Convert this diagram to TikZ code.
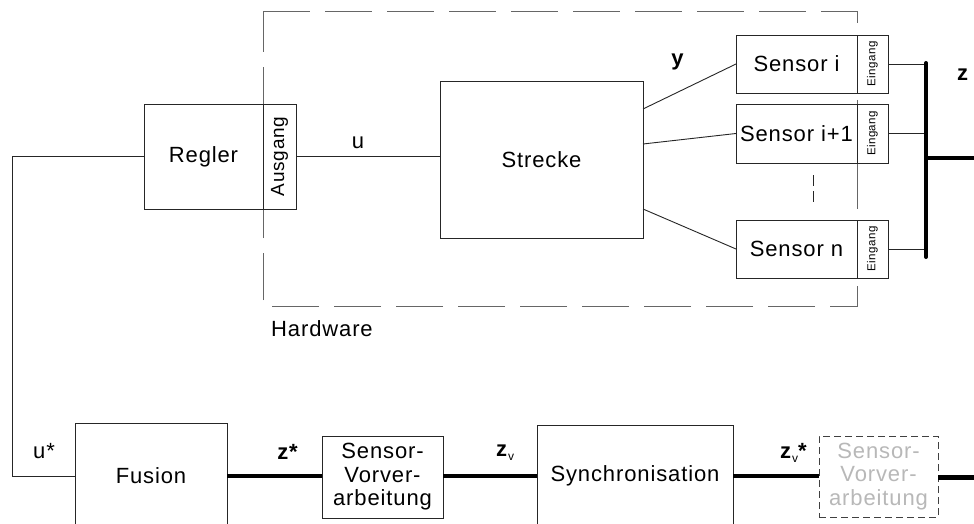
\documentclass[tikz,border=0pt]{standalone}
\usepackage{fontspec}
\setmainfont{Liberation Sans}[LetterSpace=4]
\usetikzlibrary{calc}
\newcommand{\mainsz}{\fontsize{22}{23.5}\selectfont}
\newcommand{\ausgsz}{\fontsize{19}{20}\selectfont}
\newcommand{\eingsz}{\fontsize{11.5}{12}\selectfont}
\newcommand{\subv}{\raisebox{-4pt}{\fontsize{12}{12}\selectfont\mdseries v}}
\begin{document}
\begin{tikzpicture}[x=1pt,y=-1pt,
  box/.style={draw=black!85, line width=0.9pt, inner sep=0pt, outer sep=0pt, font=\mainsz, align=center},
  conn/.style={draw=black!85, line width=0.9pt},
  busline/.style={draw=black, line width=4pt},
  lbl/.style={inner sep=0pt, font=\mainsz},
  hwframe/.style={draw=black!60, line width=1pt, dash pattern=on 47pt off 15pt},
  greybox/.style={box, draw=black!75, dash pattern=on 7pt off 4pt, text=black!28}
]
\useasboundingbox (0,0) rectangle (974,524);
\clip (0,0) rectangle (974,524);
\fill[white] (0,0) rectangle (974,524);

% hardware frame
\draw[hwframe] (263,12) -- (857,12) -- (857,306) -- (263,306) -- cycle;
\node[lbl, anchor=west] (hw) at (271,329) {Hardware};

% controller
\node[box, minimum width=119pt, minimum height=105pt] (regler) at (203.5,156.5) {Regler};
\node[box, minimum width=33pt, minimum height=105pt] (ausgang) at (279.5,156.5) {\rotatebox{90}{\ausgsz Ausgang}};

% plant
\node[box, minimum width=203pt, minimum height=157pt] (strecke) at (541.5,159.5) {Strecke};

% sensors
\node[box, minimum width=121pt, minimum height=58pt] (si) at (796.5,64) {Sensor i};
\node[box, minimum width=31pt, minimum height=58pt] (ei) at (872.5,64) {\rotatebox{90}{\eingsz Eingang}};
\node[box, minimum width=121pt, minimum height=59pt] (sj) at (796.5,133.5) {Sensor i+1};
\node[box, minimum width=31pt, minimum height=59pt] (ej) at (872.5,133.5) {\rotatebox{90}{\eingsz Eingang}};
\node[box, minimum width=121pt, minimum height=58pt] (sn) at (796.5,249) {Sensor n};
\node[box, minimum width=31pt, minimum height=58pt] (en) at (872.5,249) {\rotatebox{90}{\eingsz Eingang}};

\coordinate (dA) at (813,175);
\coordinate (dB) at (813,207);
\draw[conn, dash pattern=on 11pt off 5pt] (dA) -- (dB);

% bottom chain
\node[box, minimum width=152pt, minimum height=106pt] (fusion) at (151,476) {Fusion};
\node[box, minimum width=121pt, minimum height=82pt] (sv1) at (382.5,477) {Sensor-\\Vorver-\\arbeitung};
\node[box, minimum width=196pt, minimum height=102pt] (sync) at (635,476) {Synchronisation};
\node[greybox, minimum width=119pt, minimum height=81pt] (sv2) at (878.5,476.5) {Sensor-\\Vorver-\\arbeitung};

% upper connectors
\coordinate (fb) at (12,156.5);
\draw[conn] (regler.west) -- (fb) |- (fusion.west);
\draw[conn] (ausgang.east) -- (strecke.west |- ausgang.east);
\draw[conn] ([yshift=50.5pt]strecke.east) -- (si.west);
\draw[conn] ([yshift=15.5pt]strecke.east) -- (sj.west);
\draw[conn] ([yshift=-49.5pt]strecke.east) -- (sn.west);

\coordinate (bustop) at (926,63);
\coordinate (busbot) at (926,257);
\coordinate (zout) at (974,158);
\draw[conn] (ei.east) -- (bustop |- ei.east);
\draw[conn] (ej.east) -- (bustop |- ej.east);
\draw[conn] (en.east) -- (bustop |- en.east);
\draw[busline, line cap=round] (bustop) -- (busbot);
\draw[busline] (bustop |- zout) -- (zout);

% lower connectors
\coordinate (zvout) at (974,477);
\draw[busline] (fusion.east) -- (sv1.west |- fusion.east);
\draw[busline] (sv1.east |- fusion.east) -- (sync.west);
\draw[busline] (sync.east) -- (sv2.west |- sync.east);
\draw[busline, line width=5pt] (sv2.east |- zvout) -- (zvout);

% labels
\node[lbl] (lu) at (358,143) {u};
\node[lbl] (ly) at (678,62) {\textbf{y}};
\node[lbl] (lz) at (963,75) {\textbf{z}};
\node[lbl] (lus) at (44,451) {u*};
\node[lbl] (lzs) at (288,452) {\textbf{z*}};
\node[lbl, anchor=west] (lzv) at (496,453) {\textbf{z}\subv};
\node[lbl, anchor=west] (lzvs) at (780,453) {\textbf{z}\subv\textbf{*}};
\end{tikzpicture}
\end{document}
